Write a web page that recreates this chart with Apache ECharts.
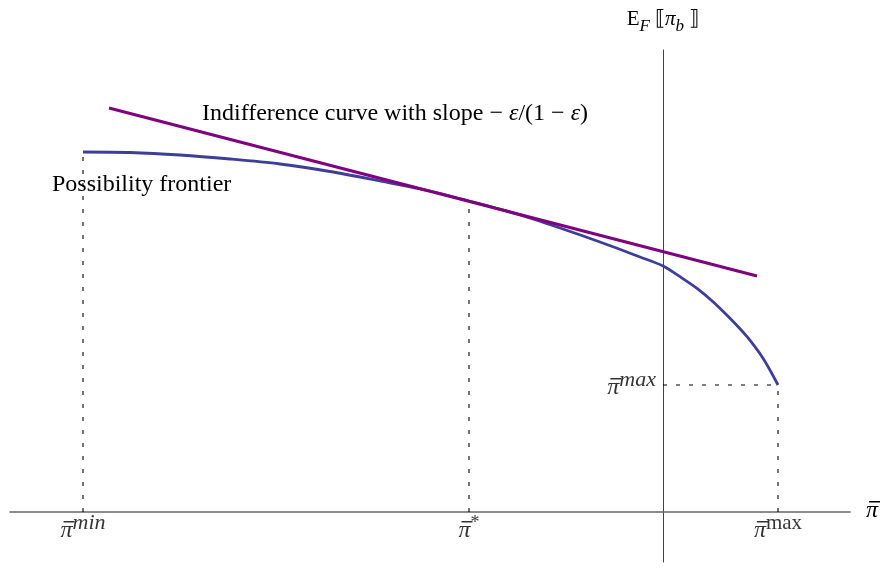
<!DOCTYPE html>
<html>
<head>
<meta charset="utf-8">
<script src="https://cdn.jsdelivr.net/npm/echarts@6/dist/echarts.min.js"></script>
<style>
  html, body { margin: 0; padding: 0; background: #fff; }
  #chart { width: 883px; height: 569px; }
</style>
</head>
<body>
<div id="chart"></div>
<script>
// possibility frontier
const frontierX = [-5.80, -5.33, -4.83, -4.33, -3.83, -3.33, -2.83, -2.33, -1.94, -1.43, -1.03, -0.63, -0.23, 0, 0.17, 0.34, 0.50, 0.67, 0.84, 1.00, 1.15]
const frontierY = [3.60, 3.595, 3.57, 3.53, 3.48, 3.405, 3.31, 3.21, 3.11, 2.97, 2.84, 2.70, 2.55, 2.46, 2.353, 2.237, 2.103, 1.937, 1.753, 1.537, 1.27]
// indifference curve (straight line, tangent at pi*)
const indiffX = [-5.54, 0.94]
const indiffY = [4.04, 2.36]
// marked points
const piMin = -5.80
const piStar = -1.94
const piMax = 1.15
const piMaxY = 1.27

const serif = "'Liberation Serif', 'Times New Roman', serif"
const dark = '#000'

// pi with a bar over it: bar on its own line, then pi + raised superscript
const piRich = {
  bar: { fontSize: 1, lineHeight: 1.5, height: 1.5, width: 11, backgroundColor: dark, align: 'left', verticalAlign: 'bottom' },
  gap: { fontSize: 1, lineHeight: 1.5, height: 1.5, width: 3, align: 'left' },
  p: { fontFamily: serif, fontSize: 24, fontStyle: 'italic', color: dark, lineHeight: 20.5, height: 24, verticalAlign: 'bottom', align: 'left' },
  s: { fontFamily: serif, fontSize: 22, fontStyle: 'italic', color: dark, lineHeight: 2, height: 2, verticalAlign: 'top', align: 'left' },
  u: { fontFamily: serif, fontSize: 21, color: dark, lineHeight: 2, height: 2, verticalAlign: 'top', align: 'left' },
  st: { fontFamily: serif, fontSize: 18, color: dark, lineHeight: 2, height: 2, verticalAlign: 'top', align: 'left' }
}
function piLabel(sup, style) {
  return '{gap| }{bar| }\n{p|π}' + (sup ? '{' + style + '|' + sup + '}' : '')
}

function dashed(points) {
  return {
    type: 'line',
    data: points,
    symbol: 'none',
    silent: true,
    lineStyle: { color: '#000', width: 1.1, type: [4, 9] },
    z: 1
  }
}

const chart = echarts.init(document.getElementById('chart'))
chart.setOption({
  animation: false,
  grid: { left: 10, right: 33, top: 50, bottom: 7 },
  xAxis: {
    type: 'value',
    min: -6.53,
    max: 1.87,
    axisLine: { show: true, onZero: true, lineStyle: { color: '#666', width: 1.5 }},
    axisTick: { show: false },
    axisLabel: { show: false },
    splitLine: { show: false },
    name: piLabel(''),
    nameLocation: 'end',
    nameGap: 16,
    nameTextStyle: { verticalAlign: 'middle', rich: piRich }
  },
  yAxis: {
    type: 'value',
    min: -0.50,
    max: 4.62,
    axisLine: { show: true, onZero: true, lineStyle: { color: '#444', width: 1 }},
    axisTick: { show: false },
    axisLabel: { show: false },
    splitLine: { show: false },
    name: '{e|E}{f|F}{e| ⟦}{i|π}{f|b}{e| ⟧}',
    nameLocation: 'end',
    nameGap: 15,
    nameTextStyle: {
      rich: {
        e: { fontFamily: serif, fontSize: 21, color: dark, lineHeight: 26, verticalAlign: 'top' },
        i: { fontFamily: serif, fontSize: 21, fontStyle: 'italic', color: dark, lineHeight: 26, verticalAlign: 'top' },
        f: { fontFamily: serif, fontSize: 17, fontStyle: 'italic', color: dark, lineHeight: 24, verticalAlign: 'bottom' }
      }
    }
  },
  graphic: [
    {
      type: 'text',
      left: 202,
      top: 102,
      style: {
        text: '{t|Indifference curve with slope }{t|− }{i|ε}{t|/(1 − }{i|ε}{t|)}',
        rich: {
          t: { fontFamily: serif, fontSize: 24, fill: dark },
          i: { fontFamily: serif, fontSize: 24, fontStyle: 'italic', fill: dark }
        }
      }
    },
    {
      type: 'text',
      left: 52,
      top: 173,
      style: { text: 'Possibility frontier', font: '24px ' + serif, fill: dark }
    }
  ],
  series: [
    dashed([[piMin, 0], [piMin, frontierY[0]]]),
    dashed([[piStar, 0], [piStar, frontierY[frontierX.indexOf(piStar)]]]),
    dashed([[piMax, 0], [piMax, piMaxY]]),
    dashed([[0, piMaxY], [piMax, piMaxY]]),
    {
      type: 'line',
      data: frontierX.map((x, i) => [x, frontierY[i]]),
      symbol: 'none',
      smooth: 0.3,
      lineStyle: { color: '#3d3d9c', width: 2.8 },
      z: 3
    },
    {
      type: 'line',
      data: indiffX.map((x, i) => [x, indiffY[i]]),
      symbol: 'none',
      lineStyle: { color: '#800080', width: 3 },
      z: 4
    },
    {
      type: 'scatter',
      symbolSize: 0,
      silent: true,
      label: { show: true, position: 'bottom', distance: 9, rich: piRich },
      data: [
        { value: [piMin, 0], label: { formatter: piLabel('min', 's') }},
        { value: [piStar, 0], label: { formatter: piLabel('*', 'st') }},
        { value: [piMax, 0], label: { formatter: piLabel('max', 'u') }},
        { value: [0, piMaxY], label: { position: 'left', distance: 7, offset: [0, 4], formatter: piLabel('max', 's') }}
      ]
    }
  ]
})
</script>
</body>
</html>
